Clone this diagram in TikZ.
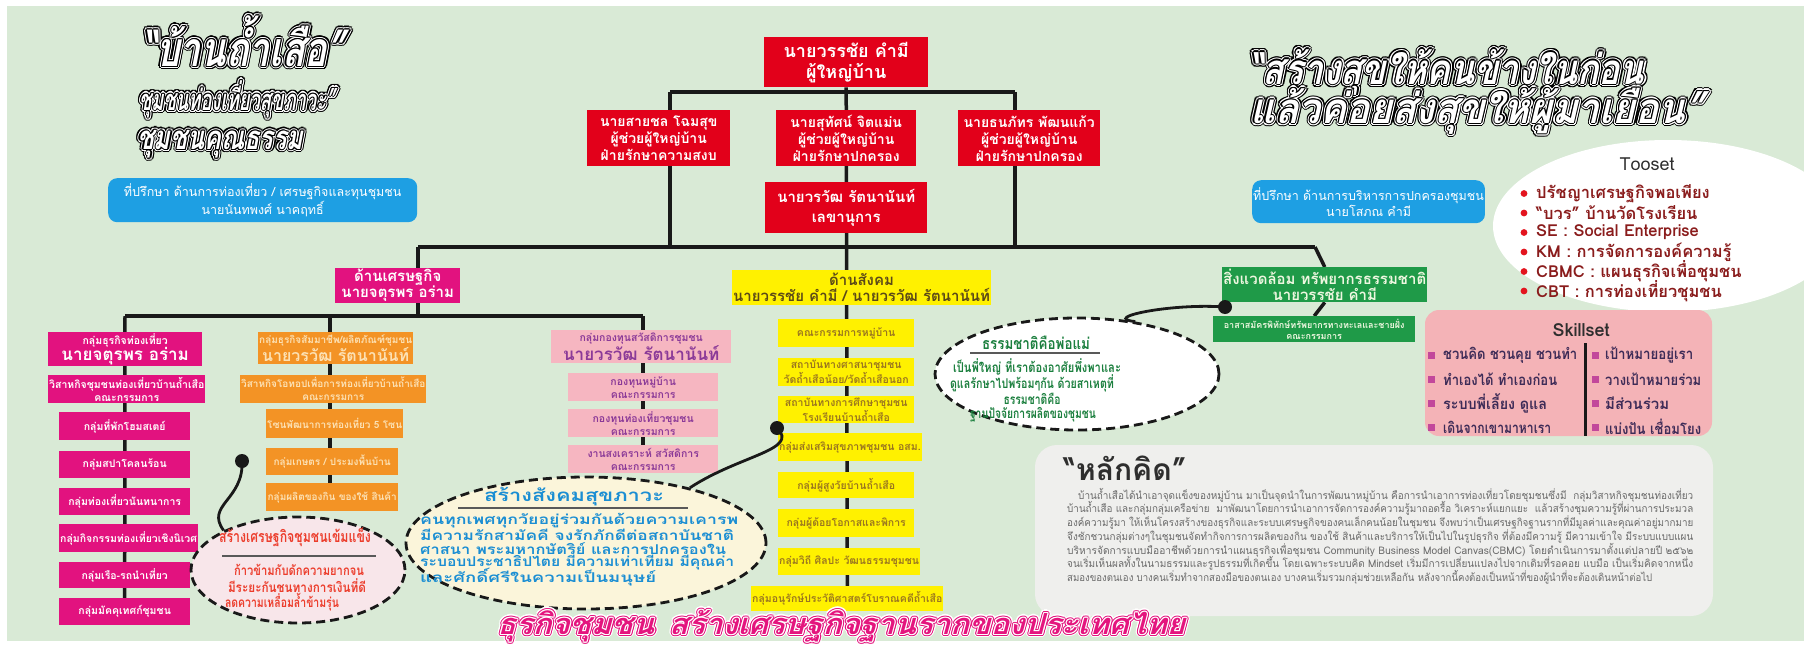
\documentclass[tikz,border=0pt]{standalone}
\usepackage{fontspec}
\usepackage{graphicx}
\setmainfont[Script=Thai]{Loma}
\newfontfamily\slf[Script=Thai,FakeSlant=0.25]{Loma}
\usetikzlibrary{calc,shapes.geometric}
\pgfdeclarelayer{back}\pgfdeclarelayer{lines}
\pgfsetlayers{back,lines,main}
\definecolor{bgG}{HTML}{D9EAD6}
\definecolor{cRed}{HTML}{E2001A}
\definecolor{cMag}{HTML}{E2127F}
\definecolor{cMagT}{HTML}{E4157E}
\definecolor{cOra}{HTML}{F39325}
\definecolor{cOraT}{HTML}{FCE1B4}
\definecolor{cPink}{HTML}{F6B6C1}
\definecolor{cPur}{HTML}{8B3A98}
\definecolor{cYel}{HTML}{FFF100}
\definecolor{cYelT}{HTML}{9A7620}
\definecolor{cYelH}{HTML}{5C4A18}
\definecolor{cGrn}{HTML}{1F9A48}
\definecolor{cGrnT}{HTML}{EEF7E0}
\definecolor{cBlue}{HTML}{1E9FE3}
\definecolor{ellBlue}{HTML}{1B8ED3}
\definecolor{ellRed}{HTML}{EC3D2C}
\definecolor{ellG}{HTML}{1B7F3E}
\definecolor{cream}{HTML}{FBF5DA}
\definecolor{pinkl}{HTML}{F8E6EA}
\definecolor{grayBox}{HTML}{EFEFED}
\definecolor{skPink}{HTML}{F4B3B7}
\definecolor{txtG}{HTML}{6A6A6A}
\definecolor{maroon}{HTML}{8A1C1C}
\definecolor{dotRed}{HTML}{E3141E}
\definecolor{sqMag}{HTML}{C2489B}
\definecolor{skTxt}{HTML}{3D2B57}
\definecolor{darkT}{HTML}{2E2E2E}
\newsavebox\fwbox
\newlength\fwlen
\newcommand\fw[2]{\sbox\fwbox{#2}\setlength\fwlen{\wd\fwbox}\pgfmathsetmacro\fwr{#1/\fwlen}\scalebox{\fwr}[1]{\usebox\fwbox}}
\newcommand\fs[1]{\fontsize{#1}{#1}\selectfont}
\newcommand\bx[7]{\pgfmathsetmacro\bw{#5-#3}\pgfmathsetmacro\bh{#6-#4}%
  \node[#2,minimum width=\bw pt,minimum height=\bh pt,anchor=north west,inner sep=1pt,align=center] (#1) at (#3,#4) {#7};}
\newcommand\outl[6]{%
  \foreach \oang in {0,22.5,...,337.5}{\node[inner sep=0,text=#4] at ($(#2,#3)+(\oang:3.4)$) {#6};}
  \foreach \oang in {0,30,...,330}{\node[inner sep=0,text=#5] at ($(#2,#3)+(\oang:2.2)$) {#6};}
  \foreach \oang in {0,45,...,315}{\node[inner sep=0,text=#4] at ($(#2,#3)+(\oang:1.1)$) {#6};}
  \node[inner sep=0,text=#5] (#1) at (#2,#3) {#6};}
\tikzset{
  conn/.style={line width=3.5pt,draw=black!90},
  curv/.style={line width=2.8pt,draw=black!90},
  dotn/.style={circle,fill=black!90,minimum size=14pt,inner sep=0},
  ell/.style={ellipse,draw=black!90,line width=2.8pt,dash pattern=on 9pt off 5pt,inner sep=0},
  blu/.style={fill=cBlue,text=white,rounded corners=9pt,font=\fontsize{12.5}{16}\selectfont},
  redT/.style={fill=cRed,text=white,font=\bfseries\fontsize{18}{21}\selectfont},
  red/.style={fill=cRed,text=white,font=\bfseries\fontsize{14}{17}\selectfont},
  redS/.style={fill=cRed,text=white,font=\bfseries\fontsize{15}{20}\selectfont},
  magH/.style={fill=cMag,text=white,font=\bfseries\fontsize{15}{16}\selectfont},
  yelH/.style={fill=cYel,text=cYelH,font=\bfseries\fontsize{15}{16}\selectfont},
  grnH/.style={fill=cGrn,text=cGrnT,font=\bfseries\fontsize{15}{16}\selectfont},
  grn/.style={fill=cGrn,text=cGrnT,font=\bfseries\fontsize{9}{11}\selectfont},
  mag/.style={fill=cMag,text=white,font=\bfseries\fontsize{10.5}{13}\selectfont},
  ora/.style={fill=cOra,text=cOraT,font=\bfseries\fontsize{10}{13}\selectfont},
  pnk/.style={fill=cPink,text=cPur,font=\bfseries\fontsize{10.5}{13}\selectfont},
  yel/.style={fill=cYel,text=cYelT,font=\bfseries\fontsize{10.5}{13}\selectfont},
  etxt/.style={inner sep=0,font=\bfseries\fs{13.5}},
  para/.style={inner sep=0,anchor=west,text=txtG,font=\fs{10.5}},
  tool/.style={inner sep=0,anchor=west,text=maroon,font=\bfseries\fs{16.5}},
  skl/.style={inner sep=0,anchor=west,text=skTxt,font=\bfseries\fs{15}}
}
\begin{document}
\begin{tikzpicture}[x=1pt,y=-1pt]
\useasboundingbox (0,0) rectangle (1804,648);
\begin{pgfonlayer}{back}
\fill[white] (0,0) rectangle (1804,648);
\fill[bgG] (7,6) rectangle (1804,641);
\end{pgfonlayer}

% titles
\outl{tL1}{243}{41}{black}{white}{\fw{204}{\slf\bfseries\fs{48}“บ้านถ้ำเสือ”}}
\outl{tL2}{237}{99}{black}{white}{\fw{196}{\slf\bfseries\fs{29}ชุมชนท่องเที่ยวสุขภาวะ”}}
\outl{tL3}{220}{144}{black}{white}{\fw{166}{\slf\bfseries\fs{33}ชุมชนคุณธรรม}}
\outl{tR1}{1446}{72}{black}{white}{\fw{396}{\slf\bfseries\fs{42}“สร้างสุขให้คนข้างในก่อน}}
\outl{tR2}{1477}{111}{black}{white}{\fw{454}{\slf\bfseries\fs{42}แล้วค่อยส่งสุขให้ผู้มาเยือน”}}

% advisors
\bx{advL}{blu}{108}{178}{417}{222}{ที่ปรึกษา ด้านการท่องเที่ยว / เศรษฐกิจและทุนชุมชน\\นายนันทพงศ์ นาคฤทธิ์}
\bx{advR}{blu}{1252}{180}{1482}{223}{ที่ปรึกษา ด้านการบริหารการปกครองชุมชน\\นายโสภณ คำมี}

% red hierarchy
\bx{head}{redT}{764}{37}{928}{87}{นายวรรชัย คำมี\\ผู้ใหญ่บ้าน}
\bx{asL}{red}{587}{110}{730}{166}{นายสายชล โฉมสุข\\ผู้ช่วยผู้ใหญ่บ้าน\\ฝ่ายรักษาความสงบ}
\bx{asM}{red}{776}{110}{916}{166}{นายสุทัศน์ จิตแม่น\\ผู้ช่วยผู้ใหญ่บ้าน\\ฝ่ายรักษาปกครอง}
\bx{asR}{red}{958}{110}{1100}{166}{นายธนภัทร พัฒนแก้ว\\ผู้ช่วยผู้ใหญ่บ้าน\\ฝ่ายรักษาปกครอง}
\bx{secr}{redS}{765}{182}{927}{233}{นายวรวัฒ รัตนานันท์\\เลขานุการ}

% categories
\bx{econ}{magH}{335}{268}{460}{302}{ด้านเศรษฐกิจ\\นายจตุรพร อร่าม}
\bx{soc}{yelH}{732}{270}{960}{305}{ด้านสังคม\\นายวรรชัย คำมี / นายวรวัฒ รัตนานันท์}
\bx{env}{grnH}{1222}{267}{1408}{302}{สิ่งแวดล้อม ทรัพยากรธรรมชาติ\\นายวรรชัย คำมี}
\bx{env1}{grn}{1213}{316}{1415}{342}{อาสาสมัครพิทักษ์ทรัพยากรทางทะเลและชายฝั่ง\\คณะกรรมการ}

% magenta column
\bx{m0}{mag}{48}{332}{202}{364}{กลุ่มธุรกิจท่องเที่ยว\\{\fs{17}นายจตุรพร อร่าม}}
\bx{m1}{mag}{48}{375}{202}{403}{วิสาหกิจชุมชนท่องเที่ยวบ้านถ้ำเสือ\\คณะกรรมการ}
\bx{m2}{mag}{59}{412}{190}{440}{กลุ่มที่พักโฮมสเตย์}
\bx{m3}{mag}{59}{451}{190}{478}{กลุ่มสปาโคลนร้อน}
\bx{m4}{mag}{59}{488}{190}{515}{กลุ่มท่องเที่ยวนันทนาการ}
\bx{m5}{mag}{59}{524}{190}{552}{กลุ่มกิจกรรมท่องเที่ยวเชิงนิเวศ}
\bx{m6}{mag}{59}{562}{190}{588}{กลุ่มเรือ-รถนำเที่ยว}
\bx{m7}{mag}{59}{598}{190}{625}{กลุ่มมัคคุเทศก์ชุมชน}

% orange column
\bx{o0}{ora}{258}{332}{400}{364}{กลุ่มธุรกิจสัมมาชีพ/ผลิตภัณฑ์ชุมชน\\{\fs{16}นายวรวัฒ รัตนานันท์}}
\bx{o1}{ora}{240}{375}{410}{403}{วิสาหกิจโอทอปเพื่อการท่องเที่ยวบ้านถ้ำเสือ\\คณะกรรมการ}
\bx{o2}{ora}{266}{409}{398}{438}{โซนพัฒนาการท่องเที่ยว 5 โซน}
\bx{o3}{ora}{266}{448}{398}{475}{กลุ่มเกษตร / ประมงพื้นบ้าน}
\bx{o4}{ora}{266}{483}{398}{511}{กลุ่มผลิตของกิน ของใช้ สินค้า}

% pink column
\bx{p0}{pnk}{551}{330}{731}{363}{กลุ่มกองทุนสวัสดิการชุมชน\\{\fs{17}นายวรวัฒ รัตนานันท์}}
\bx{p1}{pnk}{568}{373}{718}{401}{กองทุนหมู่บ้าน\\คณะกรรมการ}
\bx{p2}{pnk}{568}{409}{718}{437}{กองทุนท่องเที่ยวชุมชน\\คณะกรรมการ}
\bx{p3}{pnk}{568}{445}{718}{473}{งานสงเคราะห์ สวัสดิการ\\คณะกรรมการ}

% yellow column
\bx{y1}{yel}{778}{319}{914}{347}{คณะกรรมการหมู่บ้าน}
\bx{y2}{yel}{778}{358}{914}{386}{สถาบันทางศาสนาชุมชน\\วัดถ้ำเสือน้อย/วัดถ้ำเสือนอก}
\bx{y3}{yel}{778}{396}{914}{423}{สถาบันทางการศึกษาชุมชน\\โรงเรียนบ้านถ้ำเสือ}
\bx{y4}{yel}{778}{433}{914}{461}{กลุ่มส่งเสริมสุขภาพชุมชน อสม.}
\bx{y5}{yel}{778}{472}{914}{498}{กลุ่มผู้สูงวัยบ้านถ้ำเสือ}
\bx{y6}{yel}{778}{509}{914}{537}{กลุ่มผู้ด้อยโอกาสและพิการ}
\bx{y7}{yel}{778}{548}{914}{575}{กลุ่มวิถี ศิลปะ วัฒนธรรมชุมชน}
\bx{y8}{yel}{751}{586}{941}{611}{กลุ่มอนุรักษ์ประวัติศาสตร์โบราณคดีถ้ำเสือ}

% connectors
\coordinate (b1l) at (670,92);
\coordinate (b1r) at (1015,92);
\coordinate (b2a) at (670,247);
\coordinate (b2b) at (1015,247);
\coordinate (b2l) at (418,247);
\coordinate (b2r) at (1315,247);
\coordinate (b3l) at (125,316);
\coordinate (b3m) at (418,316);
\coordinate (b3o) at (330,316);
\coordinate (b3r) at (643,316);
\begin{pgfonlayer}{lines}
\draw[conn] (b1l) -- (b1r);
\draw[conn] (b1l) -- (b2a);
\draw[conn] (b1r) -- (b2b);
\draw[conn] (head.south) -- (y8.north);
\draw[conn] (b2l) -- (b2r);
\draw[conn] (b2l) -- (b2l |- econ.north);
\draw[conn] (b2r) -- (env.north);
\draw[conn] (env.south) -- (env1.north);
\draw[conn] (b3m |- econ.south) -- (b3m);
\draw[conn] (b3l) -- (b3r);
\draw[conn] (b3l) -- (m7.north);
\draw[conn] (b3o) -- (b3o |- o4.north);
\draw[conn] (b3r) -- (b3r |- p3.north);
\end{pgfonlayer}

% ellipses
\node[ell,fill=pinkl,minimum width=214pt,minimum height=106pt] (ellE) at (298,570) {};
\node[ell,fill=cream,minimum width=360pt,minimum height=132pt] (ellS) at (586,543) {};
\node[ell,fill=white,minimum width=284pt,minimum height=112pt] (ellN) at (1077,374) {};

\node[etxt,text=ellRed] (eH) at (295,537) {\fw{152}{\bfseries\fs{16}สร้างเศรษฐกิจชุมชนเข้มแข็ง}};
\draw[gray!70!black,line width=1.2pt] (222,556) -- (376,556);
\node[etxt,text=ellRed] (eL1) at (299,570) {\fw{130}{ก้าวข้ามกับดักความยากจน}};
\node[etxt,text=ellRed] (eL2) at (297,586) {\fw{138}{มีระยะกันชนทางการเงินที่ดี}};
\node[etxt,text=ellRed] (eL3) at (282,602) {\fw{114}{ลดความเหลื่อมล้ำข้ามรุ่น}};

\node[etxt,text=ellBlue] (sH) at (574,497) {\fw{180}{\bfseries\fs{17}สร้างสังคมสุขภาวะ}};
\draw[gray!70!black,line width=1.2pt] (458,508) -- (688,508);
\node[etxt,text=ellBlue,anchor=west] (sL1) at (420,521) {\fw{318}{คนทุกเพศทุกวัยอยู่ร่วมกันด้วยความเคารพ}};
\node[etxt,text=ellBlue,anchor=west] (sL2) at (420,535) {\fw{314}{มีความรักสามัคคี จงรักภักดีต่อสถาบันชาติ}};
\node[etxt,text=ellBlue,anchor=west] (sL3) at (420,549) {\fw{306}{ศาสนา พระมหากษัตริย์ และการปกครองใน}};
\node[etxt,text=ellBlue,anchor=west] (sL4) at (420,563) {\fw{314}{ระบอบประชาธิปไตย มีความเท่าเทียม มีคุณค่า}};
\node[etxt,text=ellBlue,anchor=west] (sL5) at (420,577) {\fw{236}{และศักดิ์ศรีในความเป็นมนุษย์}};

\node[etxt,text=ellG] (nH) at (1036,343) {\fw{108}{\bfseries\fs{16}ธรรมชาติคือพ่อแม่}};
\draw[gray!70!black,line width=1.2pt] (970,353) -- (1100,353);
\node[etxt,text=ellG] (nL1) at (1037,367) {\fw{168}{เป็นพี่ใหญ่ ที่เราต้องอาศัยพึ่งพาและ}};
\node[etxt,text=ellG] (nL2) at (1032,383) {\fw{164}{ดูแลรักษาไปพร้อมๆกัน ด้วยสาเหตุที่}};
\node[etxt,text=ellG] (nL3) at (1032,399) {\fw{57}{ธรรมชาติคือ}};
\node[etxt,text=ellG] (nL4) at (1033,415) {\fw{126}{ฐานปัจจัยการผลิตของชุมชน}};

% dots and curves
\node[dotn] (dotE) at (242,461) {};
\node[dotn] (dotS) at (777,428) {};
\node[dotn] (dotN) at (1225,307) {};
\draw[curv] (dotE.center) .. controls (244,500) and (205,505) .. (ellE.152);
\draw[curv] (dotS.center) .. controls (800,450) and (740,455) .. (ellS.28);
\draw[curv] (dotN.center) .. controls (1170,303) and (1100,318) .. (ellN.42);

% tooset
\fill[white] (1668,226) ellipse (175 and 86);
\node[inner sep=0,text=darkT,font=\fs{18}] (tooT) at (1647,164) {Tooset};
\foreach \yy/\tt [count=\i] in {193.5/ปรัชญาเศรษฐกิจพอเพียง,213/“บวร” บ้านวัดโรงเรียน,232.5/SE : Social Enterprise,252/KM : การจัดการองค์ความรู้,271.5/CBMC : แผนธุรกิจเพื่อชุมชน,291/CBT : การท่องเที่ยวชุมชน}{
  \fill[dotRed] (1524,\yy) circle (3.4);
  \node[tool] (tool\i) at (1536,\yy) {\tt};
}

% skillset
\fill[skPink,rounded corners=14pt] (1425,310) rectangle (1712,436);
\node[inner sep=0,text=darkT,font=\bfseries\fs{18}] (skT) at (1581,330) {Skillset};
\draw[line width=3pt,black!90] (1585,343) -- (1585,436);
\foreach \yy/\ta/\wa/\tb/\wb [count=\i] in {355/ชวนคิด ชวนคุย ชวนทำ/134/เป้าหมายอยู่เรา/88,379/ทำเองได้ ทำเองก่อน/114/วางเป้าหมายร่วม/96,403/ระบบพี่เลี้ยง ดูแล/104/มีส่วนร่วม/64,427/เดินจากเขามาหาเรา/108/แบ่งปัน เชื่อมโยง/96}{
  \fill[sqMag] (1428,\yy-3.5) rectangle +(7,7);
  \fill[sqMag] (1592,\yy-3.5) rectangle +(7,7);
  \node[skl] (skA\i) at (1443,\yy) {\fw{\wa}{\ta}};
  \node[skl] (skB\i) at (1605,\yy) {\fw{\wb}{\tb}};
}

% principle box
\fill[grayBox,rounded corners=22pt] (1035,445) rectangle (1713,616);
\node[inner sep=0,text=darkT,font=\bfseries\fs{30}] (lkT) at (1125,468) {“หลักคิด”};
\node[para] (pg1) at (1078,495) {\fw{615}{บ้านถ้ำเสือได้นำเอาจุดแข็งของหมู่บ้าน มาเป็นจุดนำในการพัฒนาหมู่บ้าน คือการนำเอาการท่องเที่ยวโดยชุมชนซึ่งมี\ \ กลุ่มวิสาหกิจชุมชนท่องเที่ยว}};
\node[para] (pg2) at (1067,508.7) {\fw{626}{บ้านถ้ำเสือ และกลุ่มกลุ่มเครือข่าย\ \ มาพัฒนาโดยการนำเอาการจัดการองค์ความรู้มาถอดรื้อ วิเคราะห์แยกแยะ\ \ แล้วสร้างชุมความรู้ที่ผ่านการประมวล}};
\node[para] (pg3) at (1067,522.4) {\fw{626}{องค์ความรู้มา ให้เห็นโครงสร้างของธุรกิจและระบบเศรษฐกิจของคนเล็กคนน้อยในชุมชน จึงพบว่าเป็นเศรษฐกิจฐานรากที่มีมูลค่าและคุณค่าอยู่มากมาย}};
\node[para] (pg4) at (1067,536.1) {\fw{626}{จึงชักชวนกลุ่มต่างๆในชุมชนจัดทำกิจการการผลิตของกิน ของใช้ สินค้าและบริการให้เป็นไปในรูปธุรกิจ ที่ต้องมีความรู้ มีความเข้าใจ มีระบบแบบแผน}};
\node[para] (pg5) at (1067,549.8) {\fw{626}{บริหารจัดการแบบมืออาชีพด้วยการนำแผนธุรกิจเพื่อชุมชน Community Business Model Canvas(CBMC) โดยดำเนินการมาตั้งแต่ปลายปี ๒๕๖๒}};
\node[para] (pg6) at (1067,563.5) {\fw{626}{จนเริ่มเห็นผลทั้งในนามธรรมและรูปธรรมที่เกิดขึ้น โดยเฉพาะระบบคิด Mindset เริ่มมีการเปลี่ยนแปลงไปจากเดิมที่รอคอย แบมือ เป็นเริ่มคิดจากหนึ่ง}};
\node[para] (pg7) at (1067,577.2) {\fw{585}{สมองของตนเอง บางคนเริ่มทำจากสองมือของตนเอง บางคนเริ่มรวมกลุ่มช่วยเหลือกัน หลังจากนี้คงต้องเป็นหน้าที่ของผู้นำที่จะต้องเดินหน้าต่อไป}};

% bottom title (on top)
\outl{tB}{841}{626}{white}{cMagT}{\fw{688}{\slf\bfseries\fs{29}ธุรกิจชุมชน\hspace{14pt}สร้างเศรษฐกิจฐานรากของประเทศไทย}}
\end{tikzpicture}
\end{document}
